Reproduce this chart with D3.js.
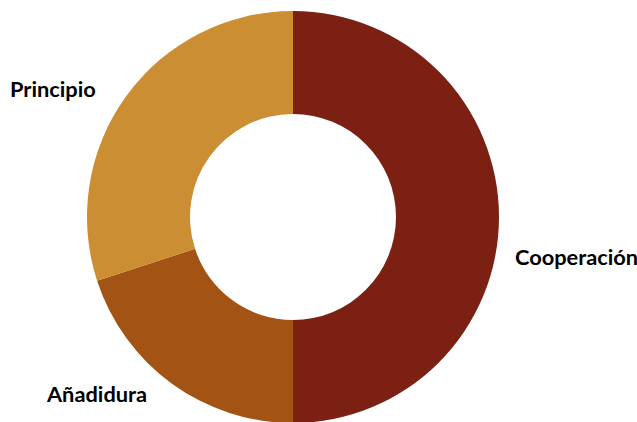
<!DOCTYPE html>
<html>
<head>
<meta charset="utf-8">
<script src="https://cdn.jsdelivr.net/npm/d3@7"></script>
<style>
  html, body { margin: 0; padding: 0; background: #fff; }
  svg { display: block; }
  .lbl { font-family: "Source Sans Pro", Lato, "Noto Sans", sans-serif; font-weight: 700; font-size: 21.8px; fill: #000; }
</style>
</head>
<body>
<svg id="chart" width="637" height="422"></svg>
<script>
// Slice data
const categories = ["Cooperación", "Añadidura", "Principio"];
const values = [50, 20, 30];
const colors = ["#7B2012", "#A35314", "#CB8E33"];
// Label anchors (left edge x, baseline y) beside each slice
const labelPos = [[515, 265], [47, 402], [10, 97]];

const width = 637, height = 422;
const cx = 293, cy = 217, outerR = 206, innerR = 103;

const svg = d3.select("#chart");
const g = svg.append("g").attr("transform", `translate(${cx},${cy})`);

const pie = d3.pie().sort(null).value(d => d.value);
const arc = d3.arc().innerRadius(innerR).outerRadius(outerR);

const data = categories.map((c, i) => ({ name: c, value: values[i], color: colors[i] }));

g.selectAll("path")
  .data(pie(data))
  .join("path")
  .attr("d", arc)
  .attr("fill", d => d.data.color);

svg.selectAll("text.lbl")
  .data(data)
  .join("text")
  .attr("class", "lbl")
  .attr("x", (d, i) => labelPos[i][0])
  .attr("y", (d, i) => labelPos[i][1])
  .text(d => d.name);
</script>
</body>
</html>
